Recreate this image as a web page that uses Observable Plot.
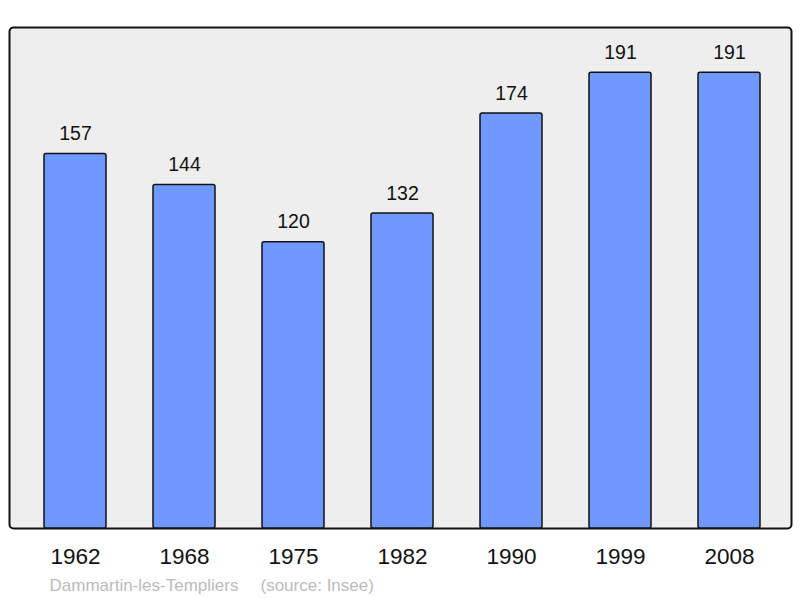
<!DOCTYPE html>
<html>
<head>
<meta charset="utf-8">
<script src="https://cdn.jsdelivr.net/npm/d3@7"></script>
<script src="https://cdn.jsdelivr.net/npm/@observablehq/plot@0.6"></script>
<style>
  html, body { margin: 0; padding: 0; background: #fff; }
  svg { font-family: "Liberation Sans", Arial, sans-serif; display: block; }
</style>
</head>
<body>
<div id="chart"></div>
<script>
const years = ["1962", "1968", "1975", "1982", "1990", "1999", "2008"];
const population = [157, 144, 120, 132, 174, 191, 191];
const commune = "Dammartin-les-Templiers";
const source = "(source: Insee)";

const data = years.map((year, i) => ({ year, value: population[i] }));

const chart = Plot.plot({
  width: 800,
  height: 598,
  marginTop: 27,
  marginBottom: 70,
  marginLeft: 9,
  marginRight: 9,
  style: { fontFamily: "'Liberation Sans', Arial, sans-serif", background: "#fff" },
  x: { domain: years, paddingInner: 0.434, paddingOuter: 0.288, align: 0.524, label: null },
  y: { domain: [0, 210], axis: null },
  marks: [
    Plot.frame({ fill: "#eeeeee", stroke: "#111", strokeWidth: 2, rx: 4 }),
    Plot.barY(data, { x: "year", y: "value", fill: "#7099ff", stroke: "#111", strokeWidth: 1.5, rx: 2 }),
    Plot.text(data, { x: "year", y: "value", text: d => String(d.value), dy: -20, fontSize: 19.5, fill: "#111" }),
    Plot.axisX({ tickSize: 0, tickPadding: 20, fontSize: 22.5, fill: "#111", label: null }),
    Plot.text([commune], { text: d => d, frameAnchor: "bottom-left", textAnchor: "start", lineAnchor: "middle", dx: 40, dy: 56.6, fontSize: 17, fill: "#bbbbbb" }),
    Plot.text([source], { text: d => d, frameAnchor: "bottom-left", textAnchor: "start", lineAnchor: "middle", dx: 251, dy: 56.6, fontSize: 17, fill: "#bbbbbb" })
  ]
});
document.getElementById("chart").appendChild(chart);
</script>
</body>
</html>
